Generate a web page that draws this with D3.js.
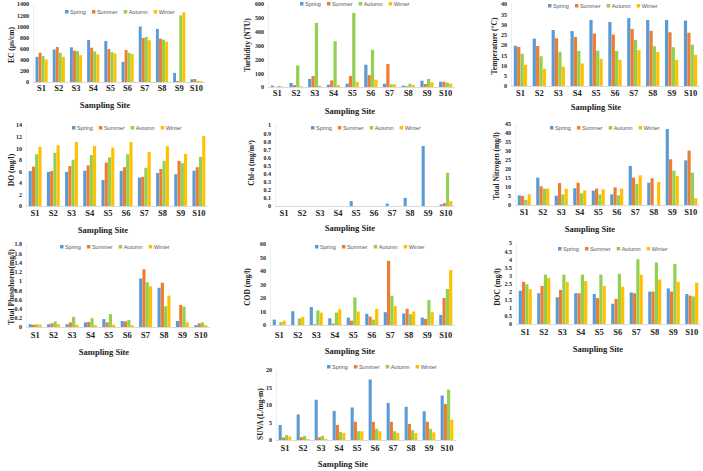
<html>
<head>
<style>
  body { margin: 0; background: #fff; }
  svg { display: block; }
  .tick text { font-family: "Liberation Serif", serif; font-weight: bold; font-size: 6px; fill: #222; }
  .site { font-family: "Liberation Serif", serif; font-weight: bold; font-size: 8.5px; fill: #222; }
  .xtitle { font-family: "Liberation Serif", serif; font-weight: bold; font-size: 8.5px; fill: #222; }
  .ytitle { font-family: "Liberation Serif", serif; font-weight: bold; font-size: 7.5px; fill: #222; }
  .legend text { font-family: "Liberation Sans", sans-serif; font-size: 5.5px; fill: #595959; }
</style>
<script src="https://cdnjs.cloudflare.com/ajax/libs/d3/7.8.5/d3.min.js"></script>
</head>
<body>
<script>
var sites = ["S1", "S2", "S3", "S4", "S5", "S6", "S7", "S8", "S9", "S10"];
var seasons = ["Spring", "Summer", "Autumn", "Winter"];
var colors = ["#5B9BD5", "#ED7D31", "#92D050", "#FFC000"];

// one row per site: spring, summer, autumn, winter
var ec = [[452, 525, 465, 404], [585, 628, 525, 452], [622, 561, 555, 483], [754, 616, 549, 495], [736, 591, 537, 513],
          [362, 573, 525, 501], [996, 790, 808, 748], [953, 778, 760, 724], [163, 18, 1195, 1249], [48, 54, 18, 18]];
var turbidity = [[10, 0, 8, 2], [29, 14, 156, 5], [58, 79, 463, 10], [17, 48, 331, 14], [24, 79, 535, 38],
                 [161, 86, 269, 53], [24, 166, 19, 19], [10, 5, 24, 14], [46, 22, 58, 34], [38, 38, 31, 24]];
var temperature = [[19.6, 19.1, 15.7, 10.4], [23.1, 19.5, 14.5, 8.4], [27.3, 23.3, 16.7, 9.4], [26.8, 23.9, 17.1, 11.0], [32.2, 25.6, 17.2, 13.3],
                   [31.2, 25.1, 17.1, 12.8], [33.1, 27.8, 22.5, 17.5], [32.2, 26.9, 19.4, 16.6], [32.2, 26.2, 18.9, 12.8], [31.9, 26.0, 20.2, 15.2]];
var dissolvedOxygen = [[6.05, 6.8, 8.95, 10.2], [5.9, 6.05, 9.2, 10.5], [5.9, 6.9, 8.0, 11.06], [6.1, 7.0, 8.8, 10.37], [4.5, 7.5, 8.4, 10.1],
                       [6.05, 6.7, 8.95, 11.06], [4.9, 5.05, 6.6, 9.35], [5.7, 6.4, 7.8, 10.35], [5.5, 7.8, 7.4, 9.0], [6.1, 6.7, 8.5, 12.1]];
var chla = [[0, 0, 0, 0], [0, 0, 0, 0], [0, 0, 0, 0], [0, 0, 0, 0], [0.06, 0, 0, 0],
            [0, 0, 0, 0], [0.03, 0, 0, 0], [0.10, 0, 0, 0], [0.74, 0, 0, 0], [0.02, 0.035, 0.41, 0.06]];
var totalNitrogen = [[5.4, 5.0, 2.8, 5.9], [15.2, 10.4, 9.1, 9.1], [5.2, 12.2, 5.9, 9.1], [9.3, 12.4, 6.5, 8.1], [8.0, 9.1, 5.9, 8.7],
                     [5.9, 9.8, 5.4, 9.1], [21.7, 15.2, 11.7, 16.5], [12.4, 14.8, 0, 12.8], [42.2, 25.4, 19.1, 16.1], [24.8, 30.2, 18.0, 3.7]];
var totalPhosphorus = [[0.06, 0.05, 0.06, 0.05], [0.06, 0.08, 0.12, 0.06], [0.06, 0.10, 0.22, 0.05], [0.10, 0.11, 0.19, 0.04], [0.17, 0.10, 0.28, 0.05],
                       [0.13, 0.12, 0.15, 0.04], [1.05, 1.25, 0.97, 0.88], [0.85, 0.96, 0.45, 0.68], [0.13, 0.48, 0.44, 0.10], [0.04, 0.08, 0.10, 0.04]];
var cod = [[4, 0, 2.2, 3.2], [10.2, 0, 4.8, 6], [13.3, 0.5, 10.8, 9.2], [5, 1, 9.2, 11.6], [5.5, 3.2, 20.5, 10],
           [8.3, 6.2, 4, 12], [9.5, 47.5, 21.7, 14], [8.5, 12, 8, 10], [5.5, 4.5, 18.5, 9.5], [7.5, 20, 26.7, 40.7]];
var doc = [[2.05, 2.6, 2.45, 2.15], [1.9, 2.35, 3.05, 2.85], [1.65, 2.1, 3.05, 2.6], [1.9, 1.9, 3.05, 2.65], [1.85, 1.6, 3.05, 2.35],
           [1.25, 1.55, 3.1, 2.3], [1.95, 1.9, 4.0, 3.05], [2.0, 2.0, 3.8, 2.75], [2.2, 2.0, 3.7, 2.6], [1.85, 1.75, 1.7, 2.55]];
var suva = [[4.3, 0.7, 1.4, 1.0], [7.3, 0.8, 1.2, 0.3], [11.5, 0.8, 1.2, 0.3], [8.3, 4.3, 2.3, 2.0], [9.3, 5.2, 2.5, 2.5],
            [17.3, 5.2, 3.2, 2.5], [10.6, 5.2, 2.5, 2.0], [9.5, 4.6, 2.8, 2.0], [8.2, 5.2, 3.2, 2.2], [12.7, 10.3, 14.4, 5.8]];

var panels = [
  {data: ec, title: "EC (µs/cm)", max: 1400, step: 200, x0: 33, x1: 205, top: 4, bottom: 82, legX: 65, legY: 12, siteY: 91, ssX: 105, ssY: 108, tX: 11, tY: 45},
  {data: turbidity, title: "Turbidity (NTU)", max: 600, step: 100, x0: 268, x1: 455, top: 4, bottom: 87, legX: 300, legY: 4, siteY: 96, ssX: 350, ssY: 114, tX: 247, tY: 45},
  {data: temperature, title: "Temperature (°C)", max: 40, step: 5, x0: 511, x1: 700, top: 4, bottom: 86, legX: 548, legY: 6, siteY: 96, ssX: 596, ssY: 110, tX: 494, tY: 46},
  {data: dissolvedOxygen, title: "DO (mg/l)", max: 14, step: 2, x0: 26, x1: 208, top: 125, bottom: 206, legX: 72, legY: 128, siteY: 216, ssX: 103, ssY: 233, tX: 11, tY: 170},
  {data: chla, title: "Chl-a (mg/m³)", max: 1, step: 0.1, x0: 275, x1: 455, top: 125, bottom: 206, legX: 311, legY: 128, siteY: 216, ssX: 350, ssY: 231, tX: 251, tY: 163},
  {data: totalNitrogen, title: "Total Nitrogen (mg/l)", max: 45, step: 5, x0: 515, x1: 700, top: 124, bottom: 205, legX: 550, legY: 128, siteY: 215, ssX: 590, ssY: 232, tX: 496, tY: 166},
  {data: totalPhosphorus, title: "Total Phosphorus(mg/l)", max: 1.8, step: 0.2, x0: 26, x1: 210, top: 244, bottom: 327, legX: 60, legY: 247, siteY: 338, ssX: 104, ssY: 355, tX: 11, tY: 287},
  {data: cod, title: "COD (mg/l)", max: 60, step: 10, x0: 270, x1: 455, top: 244, bottom: 325, legX: 315, legY: 247, siteY: 338, ssX: 350, ssY: 354, tX: 247, tY: 287},
  {data: doc, title: "DOC (mg/l)", max: 5, step: 0.5, x0: 516, x1: 701, top: 243, bottom: 324, legX: 558, legY: 249, siteY: 335, ssX: 598, ssY: 352, tX: 497, tY: 287},
  {data: suva, title: "SUVA (L/mg-m)", max: 20, step: 5, x0: 276, x1: 456, top: 370, bottom: 440, legX: 327, legY: 367, siteY: 451, ssX: 343, ssY: 467, tX: 260, tY: 414}
];

var svg = d3.select("body").append("svg")
    .attr("width", 703)
    .attr("height", 471);

panels.forEach(drawPanel);

function drawPanel(p) {
    var g = svg.append("g");

    var x = d3.scaleBand().domain(sites).range([p.x0, p.x1]).paddingInner(0.28).paddingOuter(0.14);
    var xs = d3.scaleBand().domain(seasons).range([0, x.bandwidth()]).padding(0.04);
    var y = d3.scaleLinear().domain([0, p.max]).range([p.bottom, p.top]);

    var ticks = d3.range(0, p.max + p.step / 2, p.step).map(v => +v.toFixed(2));

    // baseline and faint left axis
    g.append("line")
        .attr("x1", p.x0).attr("x2", p.x1)
        .attr("y1", p.bottom + 0.5).attr("y2", p.bottom + 0.5)
        .attr("stroke", "#d0d0d0").attr("stroke-width", 0.8);
    g.append("line")
        .attr("x1", p.x0 + 0.5).attr("x2", p.x0 + 0.5)
        .attr("y1", p.top).attr("y2", p.bottom)
        .attr("stroke", "#e4e4e4").attr("stroke-width", 0.6);

    g.append("g")
        .attr("transform", "translate(" + (p.x0 - 2) + ",0)")
        .call(d3.axisLeft(y).tickValues(ticks).tickSize(0).tickPadding(2).tickFormat(d3.format("~g")))
        .call(a => a.select(".domain").remove());

    var groups = g.selectAll(".site-group")
        .data(p.data)
        .enter().append("g")
        .attr("transform", (d, i) => "translate(" + x(sites[i]) + ",0)");

    groups.selectAll("rect")
        .data(d => d.map((v, j) => ({season: seasons[j], value: v, color: colors[j]})))
        .enter().append("rect")
        .attr("x", d => xs(d.season))
        .attr("width", xs.bandwidth())
        .attr("y", d => y(d.value))
        .attr("height", d => p.bottom - y(d.value))
        .attr("fill", d => d.color);

    g.selectAll(".site")
        .data(sites)
        .enter().append("text")
        .attr("class", "site")
        .attr("x", d => x(d) + x.bandwidth() / 2)
        .attr("y", p.siteY)
        .attr("text-anchor", "middle")
        .text(d => d);

    g.append("text")
        .attr("class", "xtitle")
        .attr("x", p.ssX)
        .attr("y", p.ssY)
        .attr("text-anchor", "middle")
        .text("Sampling Site");

    g.append("text")
        .attr("class", "ytitle")
        .attr("transform", "translate(" + p.tX + "," + p.tY + ") rotate(-90)")
        .attr("text-anchor", "middle")
        .attr("dy", "0.35em")
        .text(p.title);

    var legend = g.append("g").attr("class", "legend");
    var lx = p.legX;
    seasons.forEach(function (s, j) {
        legend.append("rect")
            .attr("x", lx).attr("y", p.legY - 2)
            .attr("width", 3.5).attr("height", 3.5)
            .attr("fill", colors[j]);
        var t = legend.append("text")
            .attr("x", lx + 5).attr("y", p.legY + 1.5)
            .text(s);
        lx += 5 + t.node().getComputedTextLength() + 6;
    });
}
</script>
</body>
</html>
